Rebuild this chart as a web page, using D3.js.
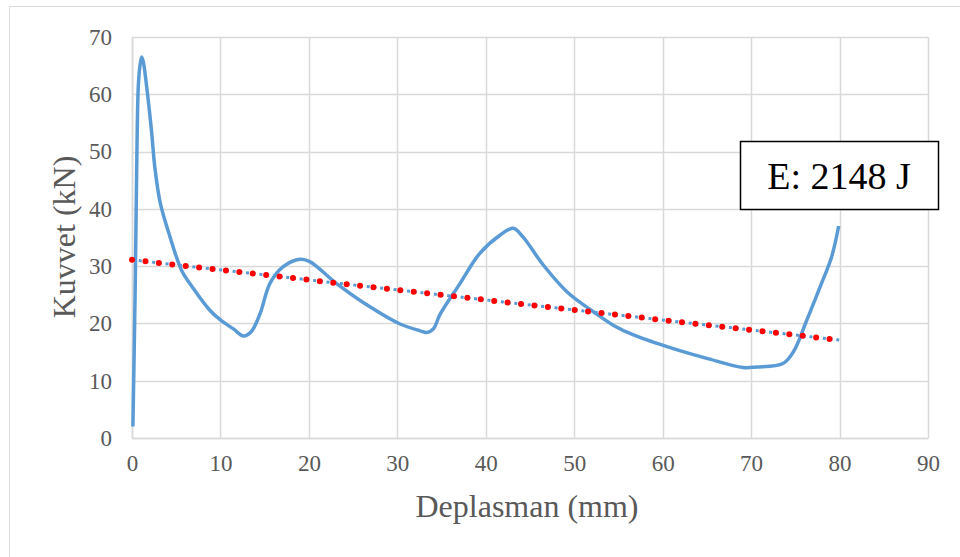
<!DOCTYPE html>
<html>
<head>
<meta charset="utf-8">
<script src="https://cdn.jsdelivr.net/npm/d3@7"></script>
<style>
  body { margin: 0; background: #fff; }
  text { font-family: "Liberation Serif", "Times New Roman", serif; }
</style>
</head>
<body>
<div id="chart"></div>
<script>
// force-displacement curve (mm, kN)
var xs = [0.1, 0.35, 0.53, 0.71, 0.9, 1.1, 1.3, 1.66, 2.2, 2.6, 3.2, 4.3, 5.6, 6.8, 8.8, 10.0, 11.5, 12.6, 13.5, 14.5, 15.6, 17.1, 19.0, 20.1, 23.1, 26.9, 30.3, 32.6, 33.3, 34.1, 34.8, 37.1, 39.3, 41.6, 43.1, 44.2, 46.5, 49.2, 52.2, 54.4, 56.7, 61.2, 65.0, 69.1, 70.6, 73.6, 74.8, 76.3, 77.8, 79.1, 79.9];
var ys = [2.0, 25.0, 47.0, 61.3, 65.0, 66.5, 65.5, 61.3, 53.7, 47.0, 41.0, 35.1, 29.3, 26.4, 22.3, 20.6, 19.0, 17.8, 18.6, 21.8, 27.0, 29.9, 31.2, 30.8, 27.0, 22.9, 19.9, 18.7, 18.4, 19.1, 21.5, 27.0, 32.2, 35.4, 36.6, 35.1, 30.2, 25.5, 22.0, 19.7, 18.0, 15.6, 13.9, 12.3, 12.4, 13.0, 15.1, 20.6, 26.4, 31.6, 37.0];
// linear trendline end points
var trendX = [0, 80];
var trendY = [31.1, 17.1];
var xTicks = [0, 10, 20, 30, 40, 50, 60, 70, 80, 90];
var yTicks = [0, 10, 20, 30, 40, 50, 60, 70];

var W = 960, H = 557;
var margin = {top: 37, right: 32, bottom: 119, left: 132};

var svg = d3.select("#chart").append("svg").attr("width", W).attr("height", H);

// chart frame (only top/left visible)
svg.append("line").attr("x1", 9.5).attr("y1", 6.5).attr("x2", 960).attr("y2", 6.5).attr("stroke", "#d9d9d9");
svg.append("line").attr("x1", 9.5).attr("y1", 6.5).attr("x2", 9.5).attr("y2", 557).attr("stroke", "#d9d9d9");

var x = d3.scaleLinear().domain([0, 90]).range([margin.left, W - margin.right]);
var y = d3.scaleLinear().domain([0, 70]).range([H - margin.bottom, margin.top]);

var g = svg.append("g");

// grid
g.selectAll(".vgrid").data(xTicks).enter().append("line")
  .attr("x1", function(d) { return Math.round(x(d)) + 0.5; })
  .attr("x2", function(d) { return Math.round(x(d)) + 0.5; })
  .attr("y1", y(70)).attr("y2", y(0))
  .attr("stroke", "#d9d9d9").attr("stroke-width", 1.5);
g.selectAll(".hgrid").data(yTicks).enter().append("line")
  .attr("y1", function(d) { return Math.round(y(d)) + 0.5; })
  .attr("y2", function(d) { return Math.round(y(d)) + 0.5; })
  .attr("x1", x(0)).attr("x2", x(90))
  .attr("stroke", "#d9d9d9").attr("stroke-width", 1.5);

// axes
var xAxis = d3.axisBottom(x).tickValues(xTicks).tickSize(0).tickPadding(17);
var yAxis = d3.axisLeft(y).tickValues(yTicks).tickSize(0).tickPadding(20);

var gx = svg.append("g").attr("transform", "translate(0," + y(0) + ")").call(xAxis);
var gy = svg.append("g").attr("transform", "translate(" + x(0) + ",0)").call(yAxis);
[gx, gy].forEach(function(a) {
  a.select(".domain").attr("stroke", "#d9d9d9").attr("stroke-width", 1.5);
  a.selectAll("text").attr("fill", "#595959").style("font-size", "23px")
    .style("font-family", "'Liberation Serif', serif");
});

// axis titles
svg.append("text").attr("x", 527).attr("y", 517).attr("text-anchor", "middle")
  .attr("fill", "#595959").style("font-size", "32px").text("Deplasman (mm)");
svg.append("text").attr("transform", "translate(75,237) rotate(-90)").attr("text-anchor", "middle")
  .attr("fill", "#595959").style("font-size", "32px").text("Kuvvet (kN)");

// data curve
var pts = xs.map(function(d, i) { return [d, ys[i]]; });
var line = d3.line().x(function(d) { return x(d[0]); }).y(function(d) { return y(d[1]); })
  .curve(d3.curveCatmullRom.alpha(0.5));
svg.append("path").datum(pts).attr("d", line)
  .attr("fill", "none").attr("stroke", "#5b9bd5").attr("stroke-width", 3.5)
  .attr("stroke-linejoin", "round");

// trendline: blue dots with red round dots on top
var tpts = trendX.map(function(d, i) { return [d, trendY[i]]; });
var tline = d3.line().x(function(d) { return x(d[0]); }).y(function(d) { return y(d[1]); });
svg.append("path").datum(tpts).attr("d", tline)
  .attr("fill", "none").attr("stroke", "#5b9bd5").attr("stroke-width", 3)
  .attr("stroke-dasharray", "3,3.75");
svg.append("path").datum(tpts).attr("d", tline)
  .attr("fill", "none").attr("stroke", "#ff0000").attr("stroke-width", 6)
  .attr("stroke-linecap", "round").attr("stroke-dasharray", "0,13.5");

// annotation box
svg.append("rect").attr("x", 740.5).attr("y", 141.5).attr("width", 198).attr("height", 68)
  .attr("fill", "#fff").attr("stroke", "#000").attr("stroke-width", 1.5);
svg.append("text").attr("x", 839).attr("y", 189).attr("text-anchor", "middle")
  .attr("fill", "#000").style("font-size", "38px").text("E: 2148 J");
</script>
</body>
</html>
